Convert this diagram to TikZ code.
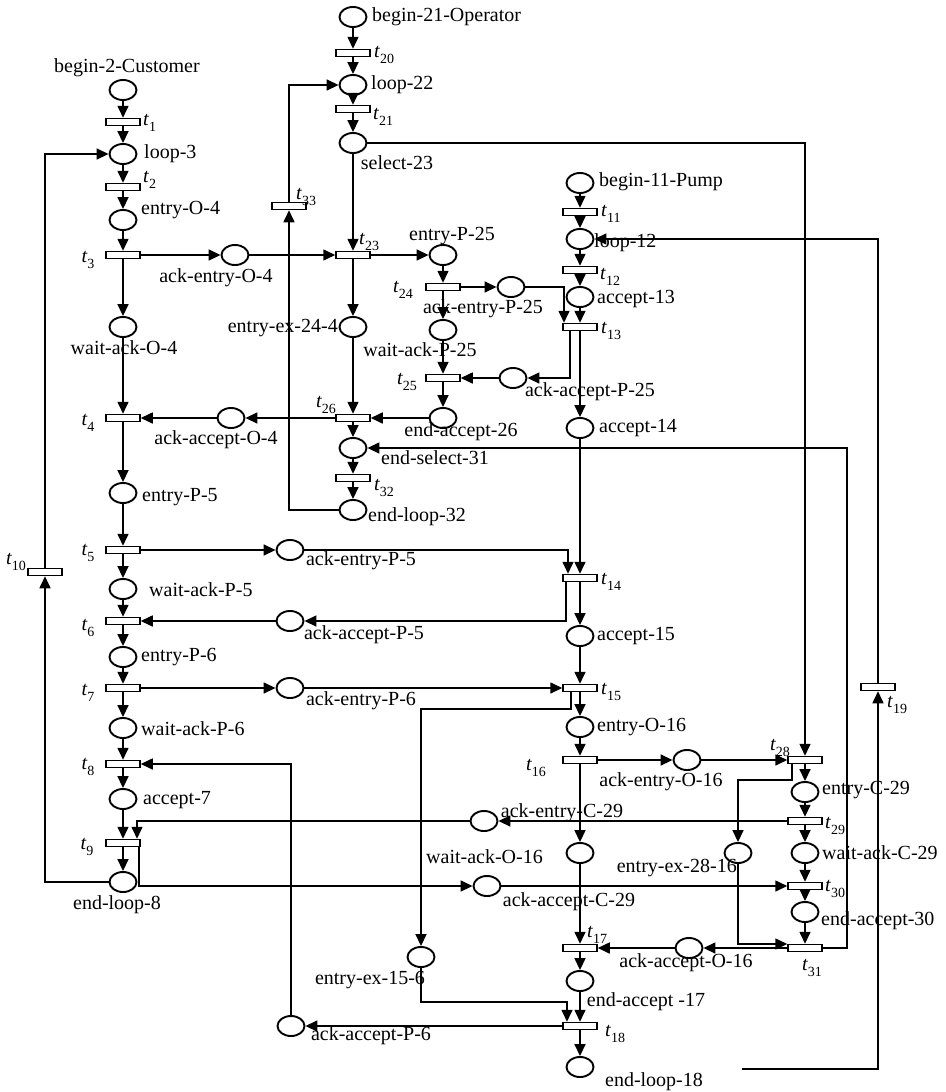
\documentclass[tikz,border=0pt]{standalone}
\usepackage{fontspec}
\setmainfont{Liberation Serif}
\usetikzlibrary{shapes.geometric,arrows.meta,calc}
\newcommand\trn[1]{\textit{t}\raisebox{-0.28em}{\fontsize{14}{14}\selectfont #1}}
\begin{document}
\begin{tikzpicture}[x=1pt,y=-1pt,
  pl/.style={ellipse,draw,line width=1.9pt,minimum width=27pt,minimum height=20pt,inner sep=0pt,fill=white},
  tr/.style={rectangle,draw,line width=1.5pt,minimum width=34pt,minimum height=7pt,inner sep=0pt,fill=white},
  arr/.style={draw,line width=1.6pt,-{Triangle[length=12pt,width=11pt]}},
  lbl/.style={font=\fontsize{20}{24}\selectfont,inner sep=0pt}]
\fill[white] (0,0) rectangle (945,1092);
\useasboundingbox (0,0) rectangle (945,1092);
% ---------- places ----------
\node[pl] (p2) at (123,90) {};
\node[pl] (p3) at (123,154) {};
\node[pl] (p4) at (123,220) {};
\node[pl] (p4w) at (123,327) {};
\node[pl] (p5) at (123,493) {};
\node[pl] (p5w) at (123,589) {};
\node[pl] (p6) at (123,657) {};
\node[pl] (p6w) at (123,728) {};
\node[pl] (p7) at (123,799) {};
\node[pl] (p8) at (123,882) {};
\node[pl] (aeO4) at (235,255) {};
\node[pl] (aaO4) at (231,418) {};
\node[pl] (aeP5) at (290,550) {};
\node[pl] (aaP5) at (290,621) {};
\node[pl] (aeP6) at (290,688) {};
\node[pl] (aaP6) at (291,1026) {};
\node[pl] (p21) at (353,17) {};
\node[pl] (p22) at (353,85) {};
\node[pl] (p23) at (353,143) {};
\node[pl] (p24) at (353,327) {};
\node[pl] (p31) at (353,448) {};
\node[pl] (p32) at (353,510) {};
\node[pl] (p25) at (443,255) {};
\node[pl] (aeP25) at (511,287) {};
\node[pl] (p25w) at (443,330) {};
\node[pl] (aaP25) at (513,378) {};
\node[pl] (p26) at (443,418) {};
\node[pl] (p11) at (580,183) {};
\node[pl] (p12) at (580,239) {};
\node[pl] (p13) at (580,297) {};
\node[pl] (p14) at (580,428) {};
\node[pl] (p15) at (580,636) {};
\node[pl] (p16) at (580,727) {};
\node[pl] (p16w) at (580,853) {};
\node[pl] (p17) at (580,981) {};
\node[pl] (p18) at (580,1067) {};
\node[pl] (pe15) at (421,957) {};
\node[pl] (aeC29) at (484,821) {};
\node[pl] (aaC29) at (487,886) {};
\node[pl] (aeO16) at (687,760) {};
\node[pl] (aaO16) at (689,948) {};
\node[pl] (pe28) at (738,853) {};
\node[pl] (p29) at (805,792) {};
\node[pl] (p29w) at (805,853) {};
\node[pl] (p30) at (805,912) {};
% ---------- transitions ----------
\node[tr] (t1) at (123,122) {};
\node[tr] (t2) at (123,187) {};
\node[tr] (t3) at (123,255) {};
\node[tr] (t4) at (123,418) {};
\node[tr] (t5) at (123,550) {};
\node[tr] (t6) at (123,621) {};
\node[tr] (t7) at (123,688) {};
\node[tr] (t8) at (123,764) {};
\node[tr] (t9) at (123,843) {};
\node[tr] (t10) at (45,572) {};
\node[tr] (t20) at (353,53) {};
\node[tr] (t21) at (353,109) {};
\node[tr] (t33) at (289,206) {};
\node[tr] (t23) at (353,255) {};
\node[tr] (t26) at (353,418) {};
\node[tr] (t32) at (353,478) {};
\node[tr] (t24) at (443,287) {};
\node[tr] (t25) at (443,378) {};
\node[tr] (t11) at (580,212) {};
\node[tr] (t12) at (580,270) {};
\node[tr] (t13) at (580,327) {};
\node[tr] (t14) at (580,578) {};
\node[tr] (t15) at (580,688) {};
\node[tr] (t16) at (580,760) {};
\node[tr] (t17) at (580,948) {};
\node[tr] (t18) at (580,1026) {};
\node[tr] (t28) at (805,760) {};
\node[tr] (t29) at (805,821) {};
\node[tr] (t30) at (805,886) {};
\node[tr] (t31) at (805,948) {};
\node[tr] (t19) at (878,687) {};
\coordinate (c18) at (742,1069);
% ---------- labels ----------
\node[lbl] (l2) at (127,68) {begin-2-Customer};
\node[lbl,anchor=west] (lt1) at (143,123) {\trn{1}};
\node[lbl,anchor=west] (l3) at (144,154) {loop-3};
\node[lbl,anchor=west] (lt2) at (143,180) {\trn{2}};
\node[lbl,anchor=west] (l4) at (141,210) {entry-O-4};
\node[lbl] (lt3) at (88,260) {\trn{3}};
\node[lbl] (laeO4) at (216,278) {ack-entry-O-4};
\node[lbl] (l4w) at (124,348) {wait-ack-O-4};
\node[lbl] (lt4) at (88,423) {\trn{4}};
\node[lbl] (laaO4) at (216,440) {ack-accept-O-4};
\node[lbl,anchor=west] (l5) at (142,497) {entry-P-5};
\node[lbl] (lt5) at (88,553) {\trn{5}};
\node[lbl,anchor=west] (l5w) at (149,590) {wait-ack-P-5};
\node[lbl] (lt6) at (88,628) {\trn{6}};
\node[lbl,anchor=west] (l6) at (141,657) {entry-P-6};
\node[lbl] (lt7) at (88,693) {\trn{7}};
\node[lbl,anchor=west] (l6w) at (141,729) {wait-ack-P-6};
\node[lbl] (lt8) at (88,767) {\trn{8}};
\node[lbl,anchor=west] (l7) at (143,800) {accept-7};
\node[lbl] (lt9) at (87,847) {\trn{9}};
\node[lbl] (l8) at (117,905) {end-loop-8};
\node[lbl] (lt10) at (16,562) {\trn{10}};
\node[lbl,anchor=west] (l21) at (372,17) {begin-21-Operator};
\node[lbl,anchor=west] (lt20) at (374,55) {\trn{20}};
\node[lbl,anchor=west] (l22) at (371,85) {loop-22};
\node[lbl,anchor=west] (lt21) at (373,117) {\trn{21}};
\node[lbl] (l23) at (397,163) {select-23};
\node[lbl,anchor=west] (lt33) at (296,197) {\trn{33}};
\node[lbl,anchor=west] (lt23) at (359,242) {\trn{23}};
\node[lbl] (l25) at (452,236) {entry-P-25};
\node[lbl,anchor=east] (l24) at (338,328) {entry-ex-24-4};
\node[lbl] (lt24) at (403,290) {\trn{24}};
\node[lbl] (laeP25) at (483,309) {ack-entry-P-25};
\node[lbl] (l25w) at (420,350) {wait-ack-P-25};
\node[lbl] (lt25) at (407,382) {\trn{25}};
\node[lbl] (laaP25) at (590,392) {ack-accept-P-25};
\node[lbl] (lt26) at (326,405) {\trn{26}};
\node[lbl] (l26) at (461,432) {end-accept-26};
\node[lbl] (l31) at (435,458) {end-select-31};
\node[lbl] (lt32) at (384,488) {\trn{32}};
\node[lbl] (l32) at (417,517) {end-loop-32};
\node[lbl,anchor=west] (l11) at (599,182) {begin-11-Pump};
\node[lbl,anchor=west] (lt11) at (601,214) {\trn{11}};
\node[lbl,anchor=west] (l12) at (594,243) {loop-12};
\node[lbl,anchor=west] (lt12) at (600,277) {\trn{12}};
\node[lbl,anchor=west] (l13) at (597,299) {accept-13};
\node[lbl,anchor=west] (lt13) at (601,331) {\trn{13}};
\node[lbl,anchor=west] (l14) at (599,428) {accept-14};
\node[lbl] (laeP5) at (361,561) {ack-entry-P-5};
\node[lbl,anchor=west] (lt14) at (601,582) {\trn{14}};
\node[lbl] (laaP5) at (364,635) {ack-accept-P-5};
\node[lbl,anchor=west] (l15) at (597,636) {accept-15};
\node[lbl,anchor=west] (lt15) at (601,692) {\trn{15}};
\node[lbl] (laeP6) at (361,701) {ack-entry-P-6};
\node[lbl,anchor=west] (l16) at (597,727) {entry-O-16};
\node[lbl] (lt16) at (536,768) {\trn{16}};
\node[lbl] (laeO16) at (661,782) {ack-entry-O-16};
\node[lbl] (lt28) at (780,748) {\trn{28}};
\node[lbl,anchor=west] (l29) at (822,790) {entry-C-29};
\node[lbl,anchor=west] (lt29) at (825,826) {\trn{29}};
\node[lbl] (laeC29) at (562,813) {ack-entry-C-29};
\node[lbl,anchor=west] (l16w) at (426,857) {wait-ack-O-16};
\node[lbl,anchor=west] (l29w) at (822,853) {wait-ack-C-29};
\node[lbl,anchor=east] (l28) at (737,868) {entry-ex-28-16};
\node[lbl] (laaC29) at (569,902) {ack-accept-C-29};
\node[lbl,anchor=west] (lt30) at (825,889) {\trn{30}};
\node[lbl,anchor=west] (l30) at (821,921) {end-accept-30};
\node[lbl,anchor=west] (lt17) at (587,935) {\trn{17}};
\node[lbl] (laaO16) at (686,963) {ack-accept-O-16};
\node[lbl] (lt31) at (812,968) {\trn{31}};
\node[lbl] (l17) at (646,1002) {end-accept -17};
\node[lbl,anchor=west] (lt18) at (605,1034) {\trn{18}};
\node[lbl] (l18) at (654,1082) {end-loop-18};
\node[lbl] (le15) at (370,980) {entry-ex-15-6};
\node[lbl] (laaP6) at (371,1036) {ack-accept-P-6};
\node[lbl,anchor=west] (lt19) at (887,705) {\trn{19}};
% ---------- arcs: Customer ----------
\draw[arr] (p2) -- (t1);
\draw[arr] (t1) -- (p3);
\draw[arr] (p3) -- (t2);
\draw[arr] (t2) -- (p4);
\draw[arr] (p4) -- (t3);
\draw[arr] (t3) -- (p4w);
\draw[arr] (p4w) -- (t4);
\draw[arr] (t4) -- (p5);
\draw[arr] (p5) -- (t5);
\draw[arr] (t5) -- (p5w);
\draw[arr] (p5w) -- (t6);
\draw[arr] (t6) -- (p6);
\draw[arr] (p6) -- (t7);
\draw[arr] (t7) -- (p6w);
\draw[arr] (p6w) -- (t8);
\draw[arr] (t8) -- (p7);
\draw[arr] (p7) -- (t9);
\draw[arr] (t9) -- (p8);
\draw[arr] (p8) -| (t10);
\draw[arr] (t10) |- (p3);
\draw[arr] (t3) -- (aeO4);
\draw[arr] (aeO4) -- (t23);
\draw[arr] (t26) -- (aaO4);
\draw[arr] (aaO4) -- (t4);
\draw[arr] (t5) -- (aeP5);
\draw[arr] (aaP5) -- (t6);
\draw[arr] (t7) -- (aeP6);
\draw[arr] (aaP6) |- (t8);
\draw[arr] (aeC29) -| ([xshift=14pt]t9.north);
\draw[arr] ([xshift=16pt]t9.south) |- (aaC29);
% ---------- Operator ----------
\draw[arr] (p21) -- (t20);
\draw[arr] (t20) -- (p22);
\draw[arr] (p22) -- (t21);
\draw[arr] (t21) -- (p23);
\draw[arr] (p23) -- (t23);
\draw[arr] (p23) -| (t28);
\draw[arr] (t23) -- (p25);
\draw[arr] (t23) -- (p24);
\draw[arr] (p24) -- (t26);
\draw[arr] (p26) -- (t26);
\draw[arr] (t26) -- (p31);
\draw[arr] (p31) -- (t32);
\draw[arr] (t32) -- (p32);
\draw[arr] (p32) -| (t33);
\draw[arr] (t33) |- (p22);
\draw[arr] (p25) -- (t24);
\draw[arr] (t24) -- (aeP25);
\draw[arr] (t24) -- (p25w);
\draw[arr] (p25w) -- (t25);
\draw[arr] (t25) -- (p26);
\draw[arr] (aaP25) -- (t25);
% ---------- Pump ----------
\draw[arr] (p11) -- (t11);
\draw[arr] (t11) -- (p12);
\draw[arr] (p12) -- (t12);
\draw[arr] (t12) -- (p13);
\draw[arr] (p13) -- (t13);
\draw[arr] (aeP25) -| ([xshift=-16pt]t13.north);
\draw[arr] ([xshift=-10pt]t13.south) |- (aaP25);
\draw[arr] (t13) -- (p14);
\draw[arr] (p14) -- (t14);
\draw[arr] (aeP5) -| ([xshift=-12pt]t14.north);
\draw[arr] ([xshift=-14pt]t14.south) |- (aaP5);
\draw[arr] (t14) -- (p15);
\draw[arr] (p15) -- (t15);
\draw[arr] (aeP6) -- (t15);
\draw[arr] (t15) -- (p16);
\draw[arr] ([xshift=-9pt]t15.south) -- ++(0,17) -| (pe15);
\draw[arr] (pe15) |- ($(t18.north)+(-13,-20)$) -- ($(t18.north)+(-13,0)$);
\draw[arr] (p16) -- (t16);
\draw[arr] (t16) -- (aeO16);
\draw[arr] (t16) -- (p16w);
\draw[arr] (p16w) -- (t17);
\draw[arr] (t17) -- (p17);
\draw[arr] (p17) -- (t18);
\draw[arr] (t18) -- (p18);
\draw[arr] (t18) -- (aaP6);
\draw[arr] (c18) -| (t19);
\draw[arr] (t19) |- (p12);
% ---------- C-29 ----------
\draw[arr] (aeO16) -- (t28);
\draw[arr] (t28) -- (p29);
\draw[arr] (p29) -- (t29);
\draw[arr] (t29) -- (p29w);
\draw[arr] (p29w) -- (t30);
\draw[arr] (t30) -- (p30);
\draw[arr] (p30) -- (t31);
\draw[arr] (t29) -- (aeC29);
\draw[arr] (aaC29) -- (t30);
\draw[arr] ([xshift=-13pt]t28.south) -- ++(0,16) -| (pe28);
\draw[arr] (pe28) |- ($(t31.west)+(0,-4)$);
\draw[arr] (t31) -- (aaO16);
\draw[arr] (aaO16) -- (t17);
\draw[arr] (t31.east) -- ++(24,0) |- (p31);
\end{tikzpicture}
\end{document}
